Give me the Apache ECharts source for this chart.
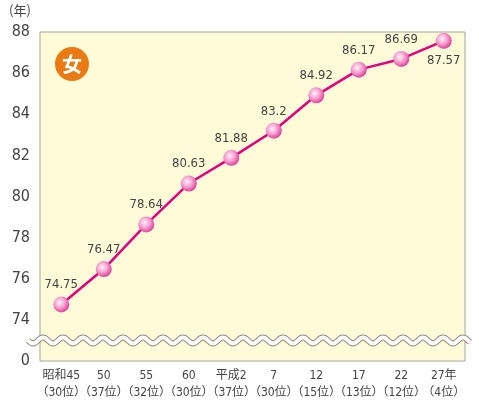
<!DOCTYPE html>
<html>
<head>
<meta charset="utf-8">
<script src="https://cdn.jsdelivr.net/npm/echarts@6/dist/echarts.min.js"></script>
<style>
  html, body { margin: 0; padding: 0; background: #fff; }
  #main { width: 479px; height: 403px; }
</style>
</head>
<body>
<div id="main"></div>
<script>
const years = ['昭和45', '50', '55', '60', '平成2', '7', '12', '17', '22', '27年'];
const ranks = ['（30位）', '（37位）', '（32位）', '（30位）', '（37位）', '（30位）', '（15位）', '（13位）', '（12位）', '（4位）'];
const lifeExpectancy = [74.75, 76.47, 78.64, 80.63, 81.88, 83.2, 84.92, 86.17, 86.69, 87.57];
const yTicks = { 72: '0', 74: '74', 76: '76', 78: '78', 80: '80', 82: '82', 84: '84', 86: '86', 88: '88' };

const font = "'DejaVu Sans Condensed', 'Liberation Sans Narrow', 'Noto Sans CJK JP', sans-serif";
const chartDom = document.getElementById('main');
const myChart = echarts.init(chartDom);

const ball = {
    type: 'radial', x: 0.4, y: 0.38, r: 0.65,
    colorStops: [
        { offset: 0, color: '#fff4fa' },
        { offset: 0.5, color: '#f7a0d0' },
        { offset: 1, color: '#de3a98' }
    ]
};

const option = {
    animation: false,
    grid: {
        left: 40, right: 14, top: 32, bottom: 42,
        show: true,
        backgroundColor: '#fffad8',
        borderColor: '#a8a49a',
        borderWidth: 1
    },
    xAxis: {
        type: 'category',
        data: years.map((y, i) => y + '\n' + ranks[i]),
        boundaryGap: true,
        axisLine: { show: false },
        axisTick: { show: false },
        axisLabel: {
            color: '#444',
            fontFamily: font,
            fontSize: 12,
            lineHeight: 17,
            margin: 6,
            interval: 0
        }
    },
    yAxis: {
        type: 'value',
        min: 72,
        max: 88,
        interval: 2,
        axisLine: { show: false },
        axisTick: { show: false },
        splitLine: { show: false },
        axisLabel: {
            color: '#444',
            fontFamily: font,
            fontSize: 16,
            margin: 10,
            formatter: v => yTicks[v] || ''
        }
    },
    series: [
        {
            type: 'line',
            symbol: 'circle',
            symbolSize: 16,
            lineStyle: { color: '#e4007f', width: 2.5 },
            itemStyle: { color: ball, borderWidth: 0 },
            label: {
                show: true,
                position: 'top',
                distance: 5,
                color: '#444',
                fontFamily: font,
                fontSize: 13
            },
            labelLayout: { hideOverlap: false },
            data: lifeExpectancy.map((v, i) => i === lifeExpectancy.length - 1
                ? { value: v, label: { position: 'bottom', offset: [4, 0] } }
                : v)
        }
    ]
};
myChart.setOption(option);

// wavy axis break + badge
const breakY = myChart.convertToPixel({ yAxisIndex: 0 }, 73);
const wave = [];
for (let x = 28; x <= 470; x += 1) {
    wave.push([x, breakY + 3 * Math.sin((x - 28) / 20 * 2 * Math.PI)]);
}
myChart.setOption({
    graphic: [
        { type: 'polyline', shape: { points: wave }, style: { stroke: '#8f8b80', lineWidth: 6, fill: null }, z: 100 },
        { type: 'polyline', shape: { points: wave }, style: { stroke: '#ffffff', lineWidth: 4, fill: null }, z: 101 },
        { type: 'text', left: 9, top: 4, style: { text: '(年)', fill: '#444', font: "13px 'Noto Sans CJK JP', sans-serif" }, z: 100 },
        { type: 'circle', shape: { cx: 72, cy: 64, r: 17 }, style: { fill: '#eb7a12' }, z: 100 },
        { type: 'text', x: 72, y: 64, style: { text: '女', fill: '#fff', align: 'center', verticalAlign: 'middle', font: "bold 20px 'Noto Sans CJK JP', sans-serif" }, z: 101 }
    ]
});
</script>
</body>
</html>
